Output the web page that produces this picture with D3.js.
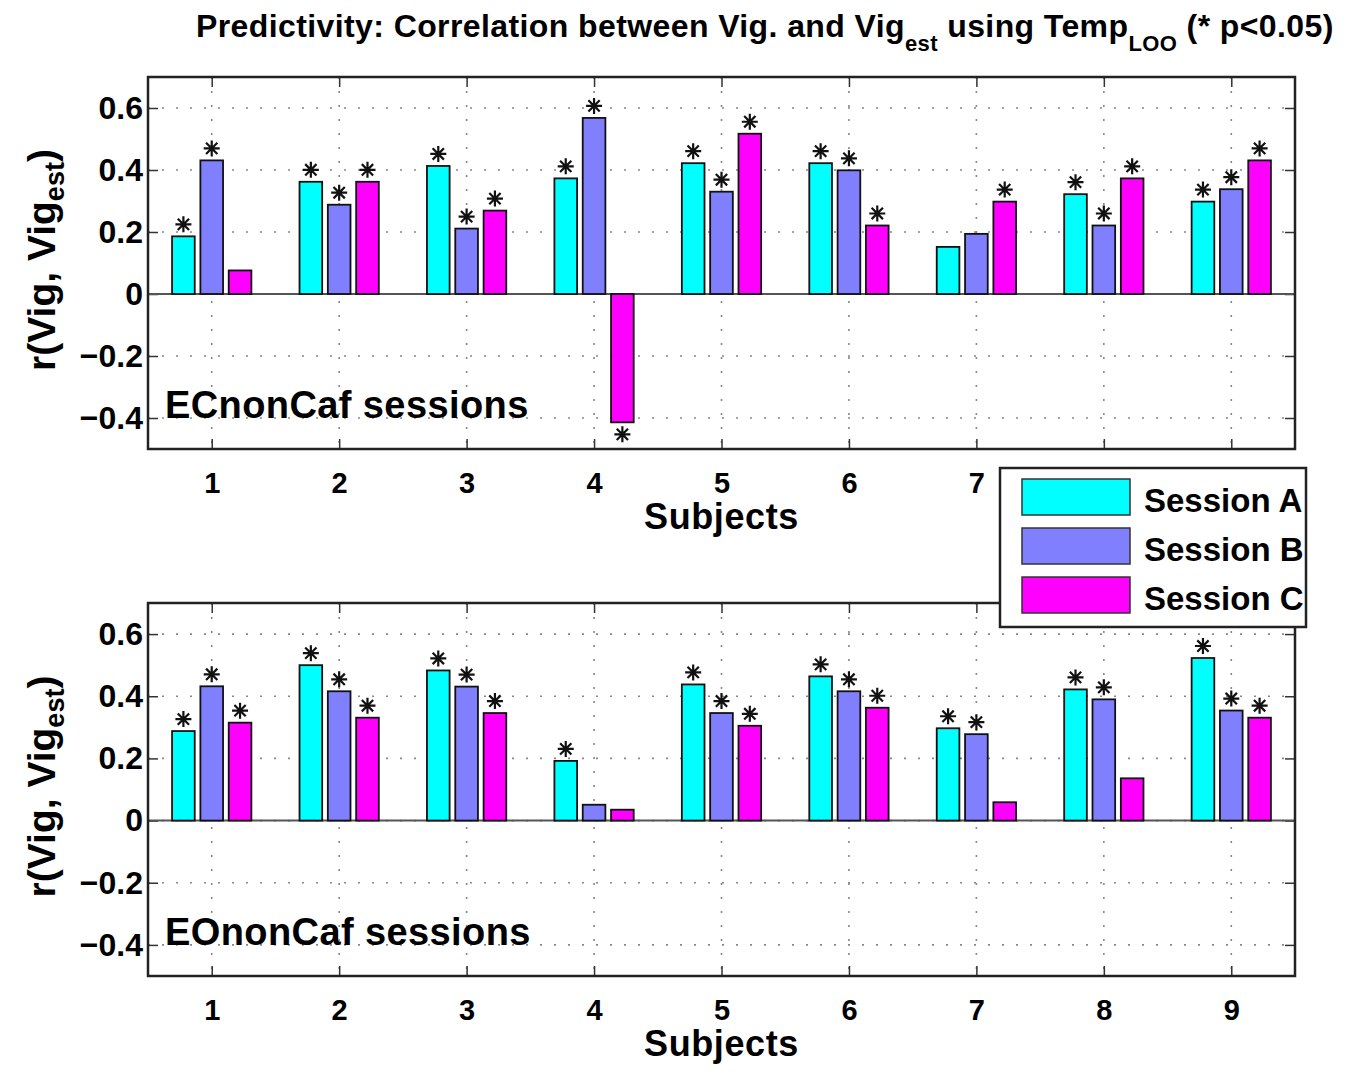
<!DOCTYPE html>
<html>
<head>
<meta charset="utf-8">
<script src="https://cdn.jsdelivr.net/npm/d3@7"></script>
<style>
    body { margin: 0; background: #fff; }
    svg { font-family: "Liberation Sans", Arial, sans-serif; font-weight: bold; }
    .grid line { stroke: #888; stroke-width: 1.6; stroke-dasharray: 2, 12; }
    .axis path { display: none; }
    .axis line { stroke: #333; stroke-width: 1.5; }
</style>
</head>
<body>
<div id="chart"></div>
<script>
// chart data
const subjects = [1, 2, 3, 4, 5, 6, 7, 8, 9];
const sessions = ["Session A", "Session B", "Session C"];
const sessionColors = ["#00ffff", "#8080ff", "#ff00ff"];
const yTicks = [-0.4, -0.2, 0, 0.2, 0.4, 0.6];

// ECnonCaf sessions
const ecA = [0.186, 0.362, 0.413, 0.373, 0.422, 0.422, 0.152, 0.322, 0.298];
const ecB = [0.431, 0.288, 0.211, 0.568, 0.330, 0.399, 0.194, 0.221, 0.338];
const ecC = [0.076, 0.362, 0.269, -0.414, 0.517, 0.221, 0.298, 0.373, 0.431];
// significance (* p<0.05)
const ecSigA = [1, 1, 1, 1, 1, 1, 0, 1, 1];
const ecSigB = [1, 1, 1, 1, 1, 1, 0, 1, 1];
const ecSigC = [0, 1, 1, 1, 1, 1, 1, 1, 1];

// EOnonCaf sessions
const eoA = [0.288, 0.500, 0.483, 0.192, 0.438, 0.464, 0.297, 0.422, 0.523];
const eoB = [0.432, 0.416, 0.431, 0.051, 0.346, 0.416, 0.278, 0.390, 0.354];
const eoC = [0.315, 0.331, 0.346, 0.035, 0.305, 0.363, 0.059, 0.136, 0.331];
const eoSigA = [1, 1, 1, 1, 1, 1, 1, 1, 1];
const eoSigB = [1, 1, 1, 0, 1, 1, 1, 1, 1];
const eoSigC = [1, 1, 1, 0, 1, 1, 0, 0, 1];

const W = 1350, H = 1079;

const svg = d3.select("#chart").append("svg")
    .attr("width", W)
    .attr("height", H);

// title with subscripts
const title = svg.append("text")
    .attr("x", 196)
    .attr("y", 37)
    .attr("font-size", 32)
    .attr("letter-spacing", 0.4);
title.append("tspan").text("Predictivity: Correlation between Vig. and Vig");
title.append("tspan").attr("dy", 14).attr("font-size", 22).text("est");
title.append("tspan").attr("dy", -14).text(" using Temp");
title.append("tspan").attr("dy", 14).attr("font-size", 22).text("LOO");
title.append("tspan").attr("dy", -14).text(" (* p<0.05)");

// asterisk marker (plus + times), r = half size
function asterisk(cx, cy, r) {
    let d = r * Math.SQRT1_2;
    return "M" + (cx - r) + "," + cy + "H" + (cx + r) +
        "M" + cx + "," + (cy - r) + "V" + (cy + r) +
        "M" + (cx - d) + "," + (cy - d) + "L" + (cx + d) + "," + (cy + d) +
        "M" + (cx - d) + "," + (cy + d) + "L" + (cx + d) + "," + (cy - d);
}

class barPanel {
    constructor(_top, _bottom, _values, _sig, _label) {
        this.top = _top;
        this.bottom = _bottom;
        this.values = _values;
        this.sig = _sig;
        this.label = _label;
        this.initVis();
    }

    initVis() {
        let vis = this;

        vis.left = 148;
        vis.right = 1295;

        vis.x = d3.scaleLinear().domain([0.5, 9.5]).range([vis.left, vis.right]);
        vis.y = d3.scaleLinear().domain([-0.5, 0.7]).range([vis.bottom, vis.top]);

        // position of each session inside a subject group (in subject units)
        vis.offset = d3.scaleBand()
            .domain(d3.range(sessions.length))
            .range([-1 / 3, 1 / 3])
            .paddingInner(0.2)
            .paddingOuter(0.1);

        vis.g = svg.append("g");

        // dotted grid
        let grid = vis.g.append("g").attr("class", "grid");
        grid.selectAll(".gy").data(yTicks).enter().append("line")
            .attr("x1", vis.left).attr("x2", vis.right)
            .attr("y1", d => vis.y(d)).attr("y2", d => vis.y(d));
        grid.selectAll(".gx").data(subjects).enter().append("line")
            .attr("x1", d => vis.x(d)).attr("x2", d => vis.x(d))
            .attr("y1", vis.top).attr("y2", vis.bottom);

        // axes with inward ticks
        let fmt = d => d === 0 ? "0" : d3.format(".1f")(d);

        vis.g.append("g").attr("class", "axis")
            .attr("transform", "translate(" + vis.left + ",0)")
            .call(d3.axisLeft(vis.y).tickValues(yTicks).tickFormat(fmt)
                .tickSizeInner(-10).tickSizeOuter(0).tickPadding(5))
            .selectAll("text").attr("font-size", 32).attr("fill", "#000");

        vis.g.append("g").attr("class", "axis")
            .attr("transform", "translate(" + vis.right + ",0)")
            .call(d3.axisRight(vis.y).tickValues(yTicks).tickFormat("")
                .tickSizeInner(-10).tickSizeOuter(0));

        vis.g.append("g").attr("class", "axis")
            .attr("transform", "translate(0," + vis.bottom + ")")
            .call(d3.axisBottom(vis.x).tickValues(subjects).tickFormat(d3.format("d"))
                .tickSizeInner(-10).tickSizeOuter(0).tickPadding(23))
            .selectAll("text").attr("font-size", 29).attr("fill", "#000");

        vis.g.append("g").attr("class", "axis")
            .attr("transform", "translate(0," + vis.top + ")")
            .call(d3.axisTop(vis.x).tickValues(subjects).tickFormat("")
                .tickSizeInner(-10).tickSizeOuter(0));

        // zero baseline
        vis.g.append("line")
            .attr("x1", vis.left).attr("x2", vis.right)
            .attr("y1", vis.y(0)).attr("y2", vis.y(0))
            .attr("stroke", "#555").attr("stroke-width", 2);

        // axis labels
        vis.g.append("text")
            .attr("x", (vis.left + vis.right) / 2)
            .attr("y", vis.bottom + 80)
            .attr("text-anchor", "middle")
            .attr("font-size", 36)
            .attr("letter-spacing", 0.6)
            .text("Subjects");

        let yl = vis.g.append("text")
            .attr("transform", "translate(55," + ((vis.top + vis.bottom) / 2 - 3) + ") rotate(-90)")
            .attr("text-anchor", "middle")
            .attr("font-size", 39);
        yl.append("tspan").text("r(Vig, Vig");
        yl.append("tspan").attr("dy", 9).attr("font-size", 27).text("est");
        yl.append("tspan").attr("dy", -9).text(")");

        vis.g.append("text")
            .attr("x", 165)
            .attr("y", vis.bottom - 31)
            .attr("font-size", 38)
            .attr("letter-spacing", 0.4)
            .text(vis.label);

        vis.updateVis();
    }

    updateVis() {
        let vis = this;

        let rows = [];
        vis.values.forEach((series, s) => {
            series.forEach((v, i) => {
                rows.push({ subject: subjects[i], s: s, value: v, sig: vis.sig[s][i] });
            });
        });

        let bw = vis.x(vis.offset.bandwidth()) - vis.x(0);

        vis.g.append("g").selectAll("rect").data(rows).enter().append("rect")
            .attr("x", d => vis.x(d.subject + vis.offset(d.s)))
            .attr("width", bw)
            .attr("y", d => vis.y(Math.max(0, d.value)))
            .attr("height", d => Math.abs(vis.y(d.value) - vis.y(0)))
            .attr("fill", d => sessionColors[d.s])
            .attr("stroke", "#111")
            .attr("stroke-width", 1.8);

        vis.g.append("g").selectAll("path").data(rows.filter(d => d.sig)).enter().append("path")
            .attr("d", d => {
                let cx = vis.x(d.subject + vis.offset(d.s)) + bw / 2;
                let cy = d.value >= 0 ? vis.y(d.value) - 12 : vis.y(d.value) + 12;
                return asterisk(cx, cy, 8);
            })
            .attr("stroke", "#111")
            .attr("stroke-width", 2.2)
            .attr("fill", "none");

        // axes box
        vis.g.append("rect")
            .attr("x", vis.left).attr("y", vis.top)
            .attr("width", vis.right - vis.left)
            .attr("height", vis.bottom - vis.top)
            .attr("fill", "none")
            .attr("stroke", "#222")
            .attr("stroke-width", 2.5);
    }
}

let ecPanel = new barPanel(77, 449, [ecA, ecB, ecC], [ecSigA, ecSigB, ecSigC], "ECnonCaf sessions");
let eoPanel = new barPanel(603, 976, [eoA, eoB, eoC], [eoSigA, eoSigB, eoSigC], "EOnonCaf sessions");

// legend
const legend = svg.append("g");
legend.append("rect")
    .attr("x", 1000).attr("y", 468)
    .attr("width", 306).attr("height", 159)
    .attr("fill", "#fff")
    .attr("stroke", "#222")
    .attr("stroke-width", 2.5);

const legY = d3.scalePoint().domain(sessions).range([497, 595]);

legend.selectAll(".sw").data(sessions).enter().append("rect")
    .attr("x", 1022)
    .attr("y", d => legY(d) - 18)
    .attr("width", 108)
    .attr("height", 36)
    .attr("fill", (d, i) => sessionColors[i])
    .attr("stroke", "#333")
    .attr("stroke-width", 1.5);

legend.selectAll(".lt").data(sessions).enter().append("text")
    .attr("x", 1144)
    .attr("y", d => legY(d) + 15)
    .attr("font-size", 33)
    .text(d => d);
</script>
</body>
</html>
